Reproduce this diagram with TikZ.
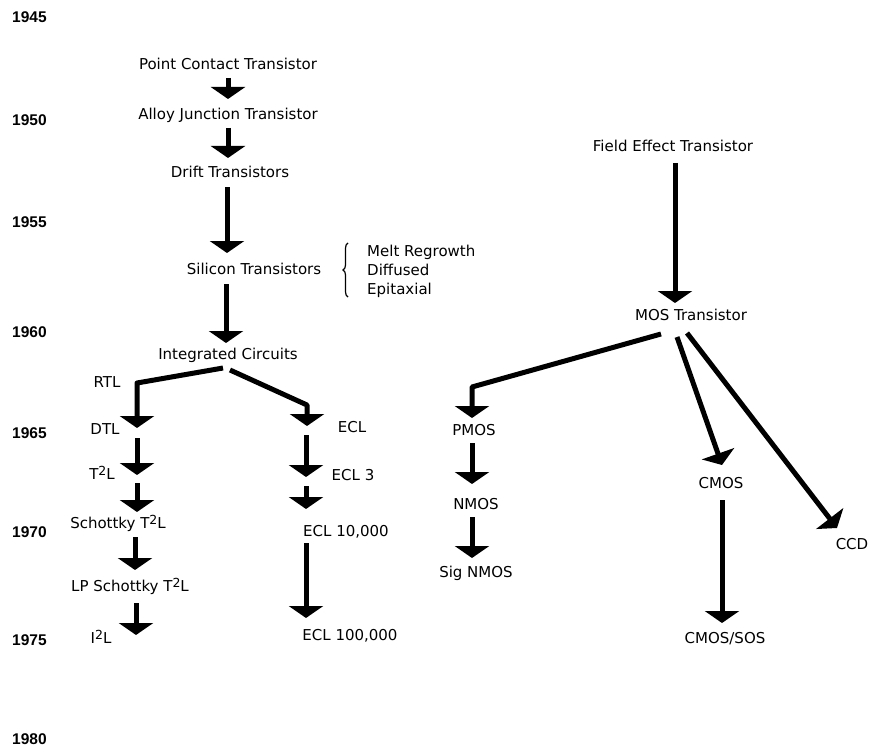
\documentclass[tikz,border=0pt]{standalone}
\usepackage{fontspec}
\setmainfont{DejaVu Sans}
\newfontfamily\yearfont{Liberation Sans}
\usetikzlibrary{arrows.meta,calc,decorations.pathreplacing}
\newcommand\suptwo{\raisebox{0.5ex}{\fontsize{12.5}{12.5}\selectfont 2}}
\tikzset{
  lbl/.style={inner sep=0pt, font=\fontsize{15}{18}\selectfont},
  yr/.style={inner sep=0pt, anchor=west, font=\yearfont\bfseries\fontsize{15.5}{18}\selectfont},
  arr/.style={line width=5pt, line join=round, -{Triangle[width=34pt,length=12pt]}},
}
\begin{document}
\begin{tikzpicture}[x=1pt,y=-1pt]
\useasboundingbox (0,0) rectangle (869,754);
% years
\node[yr] (y45) at (12,17) {1945};
\node[yr] (y50) at (12,120) {1950};
\node[yr] (y55) at (12,222) {1955};
\node[yr] (y60) at (12,332) {1960};
\node[yr] (y65) at (12,433) {1965};
\node[yr] (y70) at (12,532) {1970};
\node[yr] (y75) at (12,640) {1975};
\node[yr] (y80) at (12,739) {1980};
% left tree
\node[lbl] (pct) at (228,64) {Point Contact Transistor};
\node[lbl] (aj) at (228,115) {Alloy Junction Transistor};
\node[lbl] (drift) at (230,172) {Drift Transistors};
\node[lbl] (si) at (254,269) {Silicon Transistors};
\node[lbl, align=left, anchor=west, font=\fontsize{15}{19}\selectfont] (proc) at (367,271) {Melt Regrowth\\Diffused\\Epitaxial};
\node[lbl] (ic) at (228,355) {Integrated Circuits};
\node[lbl] (rtl) at (107,382) {RTL};
\node[lbl] (dtl) at (105,429) {DTL};
\node[lbl] (t2l) at (102,473) {T\suptwo L};
\node[lbl] (sch) at (118,523) {Schottky T\suptwo L};
\node[lbl] (lp) at (130,586) {LP Schottky T\suptwo L};
\node[lbl] (i2l) at (101,637) {I\suptwo L};
\node[lbl] (ecl) at (352,427) {ECL};
\node[lbl] (ecl3) at (353,475) {ECL 3};
\node[lbl] (ecl10k) at (346,532) {ECL 10,000};
\node[lbl] (ecl100k) at (350,636) {ECL 100,000};
% right tree
\node[lbl] (fet) at (673,146) {Field Effect Transistor};
\node[lbl] (mos) at (691,315) {MOS Transistor};
\node[lbl] (pmos) at (474,430) {PMOS};
\node[lbl] (nmos) at (476,504) {NMOS};
\node[lbl] (signmos) at (476,573) {Sig NMOS};
\node[lbl] (cmos) at (721,483) {CMOS};
\node[lbl] (cmossos) at (725,639) {CMOS/SOS};
\node[lbl] (ccd) at (852,544) {CCD};
% brace
\draw[line width=1.2pt, decorate, decoration={brace, amplitude=5pt}] ($(proc.west)+(-19,26)$) -- ($(proc.west)+(-19,-28)$);
% arrows
\draw[arr] ($(pct)+(0,14)$) -- ($(aj)+(0,-16)$);
\draw[arr] ($(aj)+(0,13)$) -- ($(drift)+(-2,-14)$);
\draw[arr] ($(drift)+(-3,15)$) -- ($(si)+(-27,-16)$);
\draw[arr] ($(si)+(-28,15)$) -- ($(ic)+(-2,-12)$);
\draw[arr] ($(ic)+(-5,13)$) -- ($(ic)+(-91,28)$) -- ($(dtl)+(32,-1)$);
\draw[arr] ($(ic)+(2,15)$) -- ($(ecl)+(-45,-22)$) -- ($(ecl)+(-45,-1)$);
\draw[arr] ($(dtl)+(32,9)$) -- ($(t2l)+(35,2)$);
\draw[arr] ($(t2l)+(35,10)$) -- ($(sch)+(19,-11)$);
\draw[arr] ($(sch)+(17,14)$) -- ($(lp)+(5,-16)$);
\draw[arr] ($(lp)+(6,17)$) -- ($(i2l)+(35,-2)$);
\draw[arr] ($(ecl)+(-46,8)$) -- ($(ecl3)+(-47,2)$);
\draw[arr] ($(ecl3)+(-47,11)$) -- ($(ecl10k)+(-40,-23)$);
\draw[arr] ($(ecl10k)+(-40,11)$) -- ($(ecl100k)+(-44,-18)$);
\draw[arr] ($(fet)+(2,17)$) -- ($(mos)+(-16,-12)$);
\draw[arr] ($(mos)+(-30,19)$) -- ($(pmos)+(-2,-43)$) -- ($(pmos)+(-2,-12)$);
\draw[arr] ($(pmos)+(-2,13)$) -- ($(nmos)+(-4,-20)$);
\draw[arr] ($(nmos)+(-4,13)$) -- ($(signmos)+(-4,-15)$);
\draw[arr] ($(mos)+(-14,22)$) -- ($(cmos)+(1,-18)$);
\draw[arr] ($(cmos)+(1,17)$) -- ($(cmossos)+(-3,-16)$);
\draw[arr] ($(mos)+(-4,18)$) -- ($(ccd)+(-15,-16)$);
\end{tikzpicture}
\end{document}
